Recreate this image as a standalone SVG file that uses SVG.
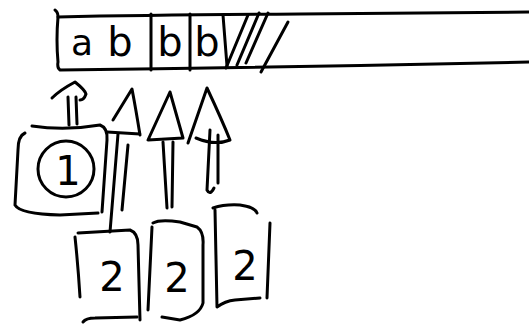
<svg xmlns="http://www.w3.org/2000/svg" width="529" height="327" viewBox="0 0 529 327">
<style>
.s{fill:none;stroke:#000;stroke-width:3;stroke-linecap:round;stroke-linejoin:round}
.t{font-family:"DejaVu Sans",sans-serif;fill:#000;text-anchor:middle}
</style>
<rect width="529" height="327" fill="#fff"/>
<g id="tape">
<path class="s" d="M55,10 Q58,12 58,17 Q150,15 300,14 L529,12"/>
<path class="s" d="M58,17 Q56,40 58,62 Q57,68 60,70 Q300,67 529,62"/>
<path class="s" d="M151,14 L151,70"/>
<path class="s" d="M190,14 L190,70"/>
<path class="s" d="M223,15 L227,66"/>
<path class="s" d="M226,68 L248,15"/>
<path class="s" d="M237,65 L259,13"/>
<path class="s" d="M246,63 L268,13"/>
<path class="s" d="M261,72 L288,22"/>
<text class="t" x="82" y="55" font-size="36">a</text>
<text class="t" x="120" y="56" font-size="40">b</text>
<text class="t" x="170" y="56" font-size="40">b</text>
<text class="t" x="207" y="56" font-size="40">b</text>
</g>
<g id="node1">
<path class="s" d="M32,126 Q65,131 100,125 Q108,128 107,140 L102,212"/>
<path class="s" d="M25,133 Q18,136 18,150 L15,205 Q20,214 60,215 L98,213"/>
<circle class="s" cx="66" cy="169" r="28"/>
<text class="t" x="68" y="185" font-size="40">1</text>
</g>
<g id="node2a">
<path class="s" d="M78,233 L130,230 Q138,233 138,245 L140,320"/>
<path class="s" d="M75,237 Q78,265 80,297"/>
<path class="s" d="M83,322 Q86,318 95,318 L137,317"/>
<text class="t" x="112" y="291" font-size="40">2</text>
</g>
<g id="node2b">
<path class="s" d="M152,227 L148,310"/>
<path class="s" d="M153,223 Q160,219 180,222 L197,227 Q204,232 203,245 L203,303 Q200,315 180,320 L162,317"/>
<text class="t" x="177" y="292" font-size="40">2</text>
</g>
<g id="node2c">
<path class="s" d="M213,208 Q225,204 240,205 Q255,207 257,213"/>
<path class="s" d="M215,210 L217,307 Q225,301 235,300 L260,298"/>
<path class="s" d="M270,223 L267,298"/>
<text class="t" x="245" y="280" font-size="40">2</text>
</g>
<g id="connectors">
<path class="s" d="M52,98 Q60,90 75,82 Q85,90 86,94 Q84,100 80,100"/>
<path class="s" d="M68,97 L69,125 M76,97 L77,124"/>
<path class="s" d="M113,120 L132,89 Q136,110 140,135 M107,132 L140,134"/>
<path class="s" d="M118,134 L110,232 M128,145 L122,210"/>
<path class="s" d="M170,92 L148,140 L183,138 Z"/>
<path class="s" d="M163,142 L167,208 M173,142 L172,207"/>
<path class="s" d="M207,88 L188,143 M207,88 Q222,120 230,140 Q215,146 196,138"/>
<path class="s" d="M210,130 L207,190 Q210,196 214,188 M218,135 L218,183"/>
</g>
</svg>
